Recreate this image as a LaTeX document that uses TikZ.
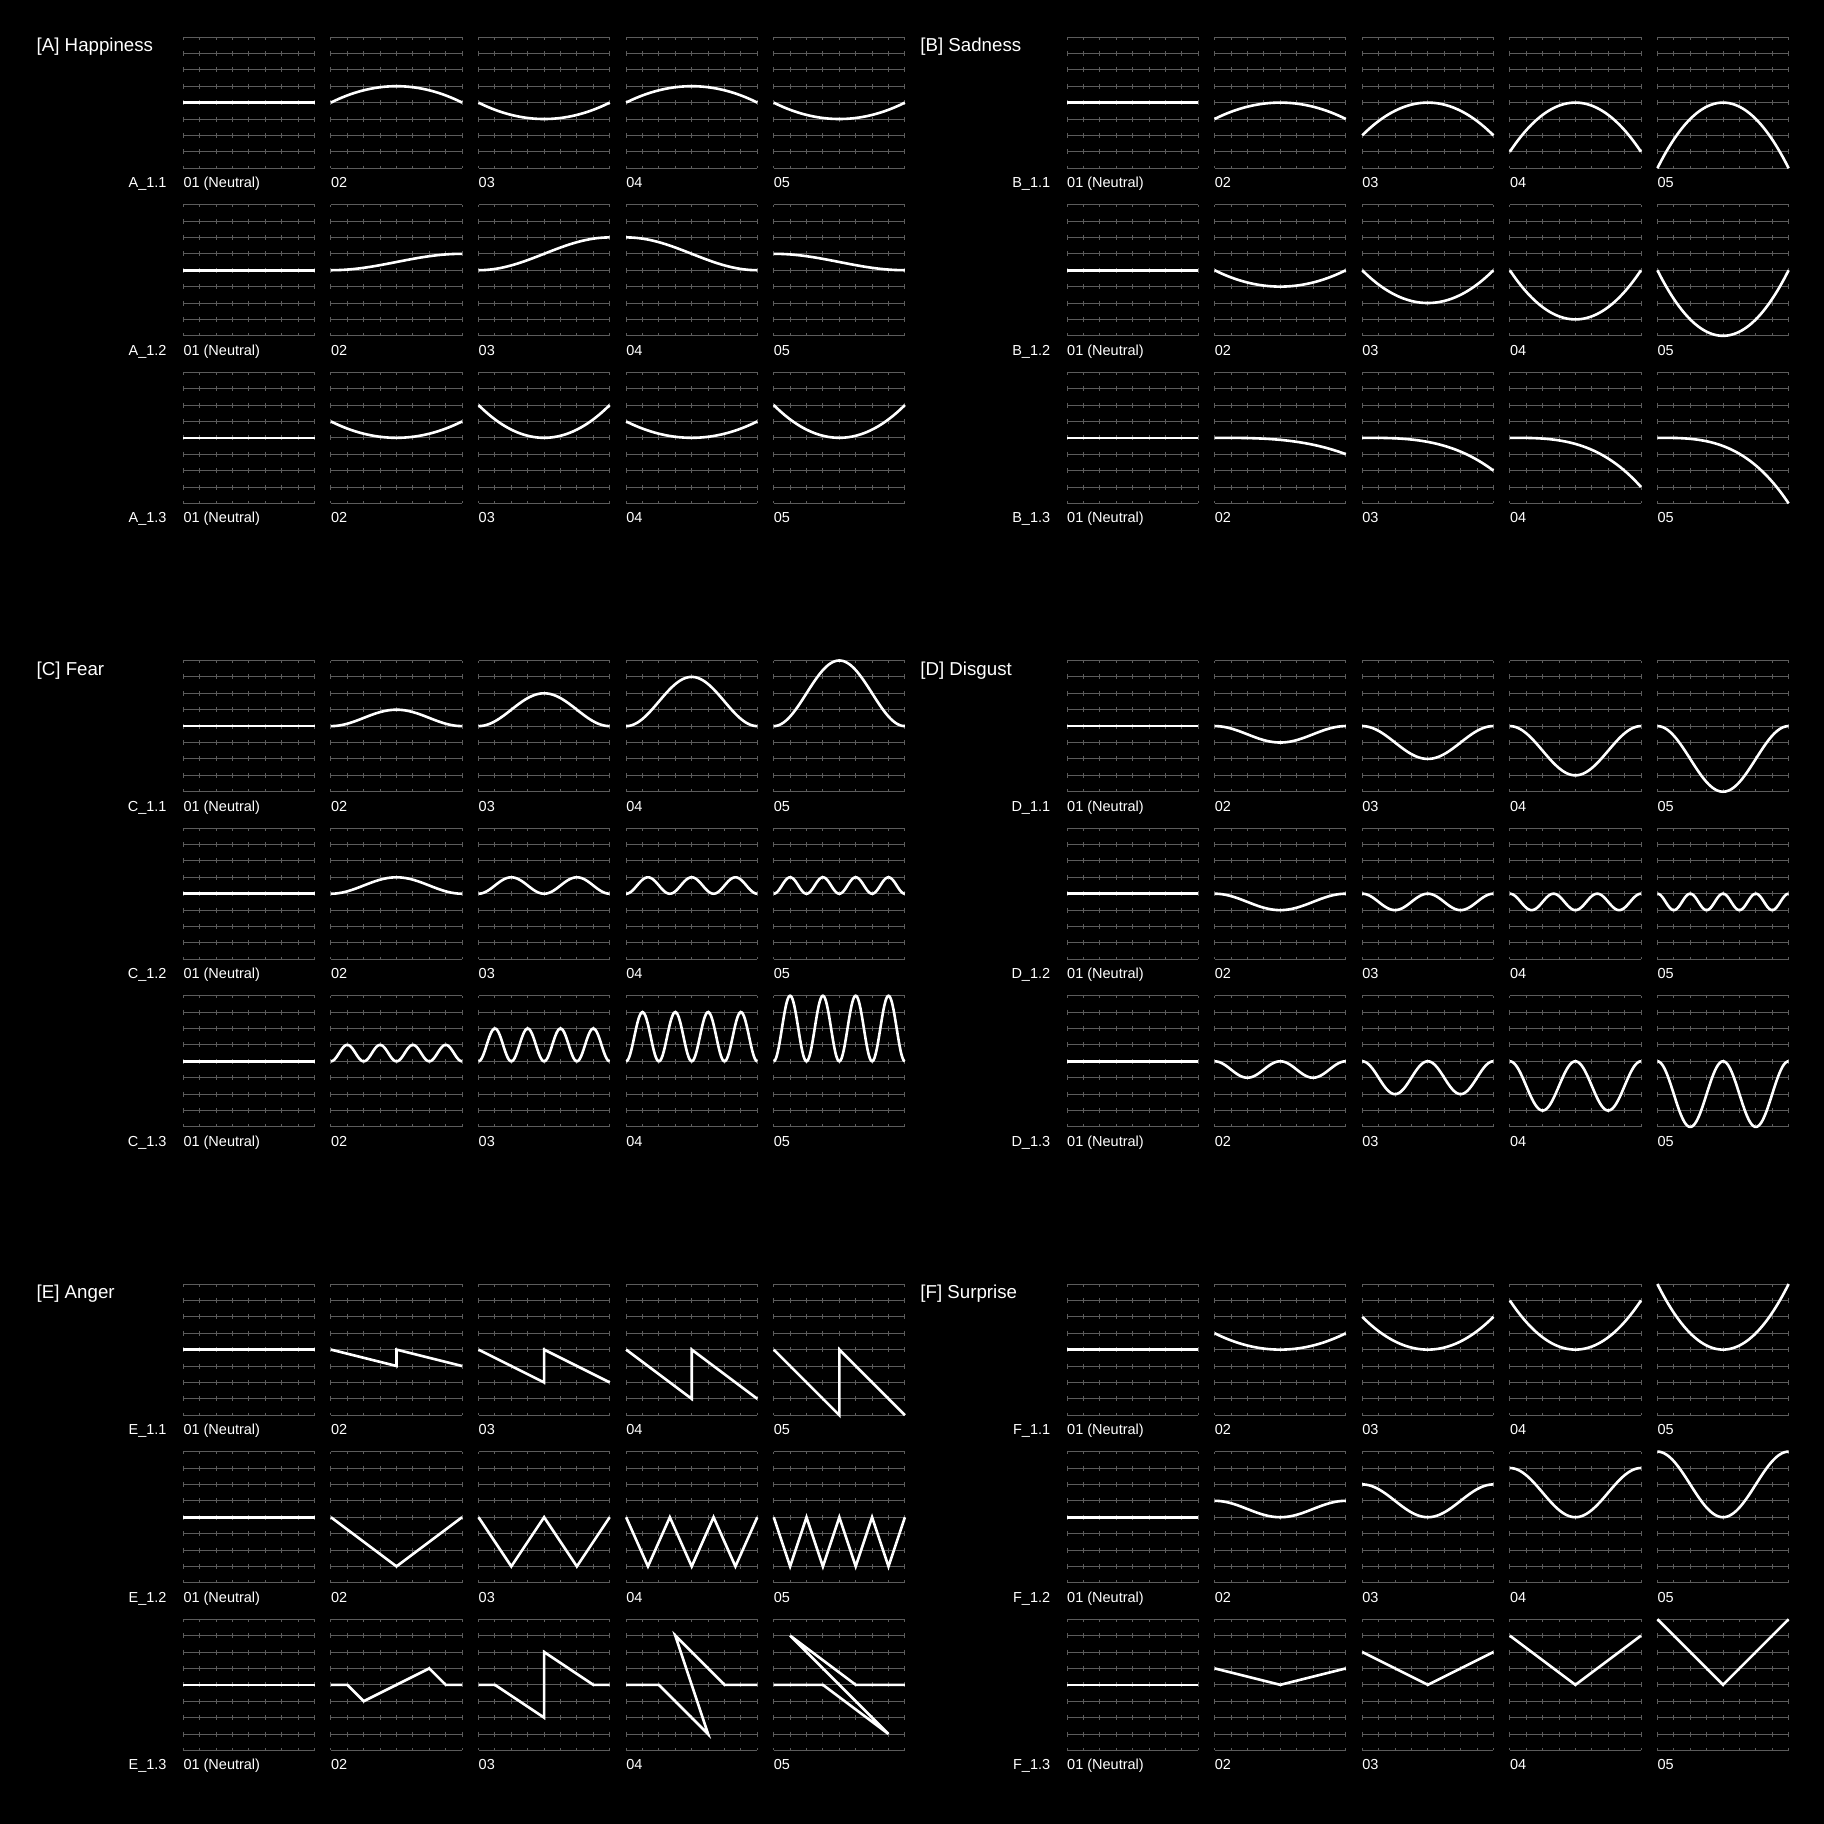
\documentclass[tikz,border=0pt]{standalone}
\usepackage{fontspec}
\setmainfont{Liberation Sans}
\definecolor{gridgray}{gray}{0.36}
\tikzset{
  gridln/.style={draw=gridgray, line width=0.9pt},
  tickln/.style={draw=gridgray, line width=0.9pt, dash pattern=on 5pt off 11.4pt, dash phase=2.5pt},
  wave/.style={draw=white, line width=2.6pt},
  lbl/.style={text=white, font=\fontsize{14.5}{17}\selectfont, inner sep=0pt},
  ttl/.style={text=white, font=\fontsize{18.7}{22}\selectfont, inner sep=0pt, anchor=base west},
}
% curve helpers (cell units: x 0..8, y -4..4, centre line y=0)
\newcommand\cvFlat{(0,0)--(8,0)}
\newcommand\cvPar[2]{plot[domain=0:8,samples=61,smooth] (\x,{(#1)+(#2)*((\x-4)/4)*((\x-4)/4)})}
\newcommand\cvSig[2]{plot[domain=0:8,samples=61,smooth] (\x,{(#1)+((#2)-(#1))*(1-cos(22.5*\x))/2})}
\newcommand\cvBump[2]{plot[domain=0:8,samples=161,smooth] (\x,{(#1)*(1-cos(45*#2*\x))/2})}
\newcommand\cvCos[1]{plot[domain=0:8,samples=61,smooth] (\x,{(#1)*(1+cos(45*\x))/2})}
\newcommand\cvFall[1]{plot[domain=0:8,samples=61,smooth] (\x,{-(#1)*(\x/8)*(\x/8)*(\x/8)})}
\newcommand\cvSaw[1]{(0,0)--(4,-#1)--(4,0)--(8,-#1)}
\newcommand\cvV[1]{(0,#1)--(4,0)--(8,#1)}
% one cell: #1 half, #2 group, #3 row, #4 column, #5 curve
\newcommand\drawcell[5]{%
  \pgfmathsetmacro\cellL{183.3+#1*883.7+#4*147.6}%
  \pgfmathsetmacro\cellT{37+#2*623.5+#3*167.6}%
  \begin{scope}[x=16.4pt,y=16.4pt,shift={(\cellL pt,-\cellT pt)},shift={(0,-4)}]
    \draw[gridln] \foreach \i in {-4,...,4}{(0,\i)--(8,\i)};
    \draw[tickln] \foreach \j in {0,...,8}{(\j,4)--(\j,-4)};
    \draw[wave] #5;
    \node[lbl,anchor=base west] (cap#1#2#3#4) at (0,-5.19)
      {\ifnum#4=0 01 (Neutral)\else 0\the\numexpr#4+1\relax\fi};
  \end{scope}}
% row label: #1 half, #2 group, #3 row, #4 text
\newcommand\rowlbl[4]{%
  \pgfmathsetmacro\cellL{183.3+#1*883.7}%
  \pgfmathsetmacro\cellT{37+#2*623.5+#3*167.6}%
  \node[lbl,anchor=base east] (row#1#2#3) at (\cellL pt-16.6pt,-\cellT pt-150.7pt) {#4};}
% title: #1 half, #2 group, #3 text
\newcommand\grouptitle[3]{%
  \pgfmathsetmacro\cellL{36.5+#1*883.7}%
  \pgfmathsetmacro\cellT{37+#2*623.5+14.8}%
  \node[ttl] (ttl#1#2) at (\cellL pt,-\cellT pt) {#3};}
\begin{document}
\begin{tikzpicture}
\fill[black] (0,0) rectangle (1824pt,-1824pt);
\useasboundingbox (0,0) rectangle (1824pt,-1824pt);

% ---------- titles ----------
\grouptitle{0}{0}{[A] Happiness}
\grouptitle{1}{0}{[B] Sadness}
\grouptitle{0}{1}{[C] Fear}
\grouptitle{1}{1}{[D] Disgust}
\grouptitle{0}{2}{[E] Anger}
\grouptitle{1}{2}{[F] Surprise}

% ---------- row labels ----------
\rowlbl{0}{0}{0}{A\_1.1}\rowlbl{0}{0}{1}{A\_1.2}\rowlbl{0}{0}{2}{A\_1.3}
\rowlbl{1}{0}{0}{B\_1.1}\rowlbl{1}{0}{1}{B\_1.2}\rowlbl{1}{0}{2}{B\_1.3}
\rowlbl{0}{1}{0}{C\_1.1}\rowlbl{0}{1}{1}{C\_1.2}\rowlbl{0}{1}{2}{C\_1.3}
\rowlbl{1}{1}{0}{D\_1.1}\rowlbl{1}{1}{1}{D\_1.2}\rowlbl{1}{1}{2}{D\_1.3}
\rowlbl{0}{2}{0}{E\_1.1}\rowlbl{0}{2}{1}{E\_1.2}\rowlbl{0}{2}{2}{E\_1.3}
\rowlbl{1}{2}{0}{F\_1.1}\rowlbl{1}{2}{1}{F\_1.2}\rowlbl{1}{2}{2}{F\_1.3}

% ---------- A Happiness ----------
\drawcell{0}{0}{0}{0}{\cvFlat}
\drawcell{0}{0}{0}{1}{\cvPar{1}{-1}}
\drawcell{0}{0}{0}{2}{\cvPar{-1}{1}}
\drawcell{0}{0}{0}{3}{\cvPar{1}{-1}}
\drawcell{0}{0}{0}{4}{\cvPar{-1}{1}}
\drawcell{0}{0}{1}{0}{\cvFlat}
\drawcell{0}{0}{1}{1}{\cvSig{0}{1}}
\drawcell{0}{0}{1}{2}{\cvSig{0}{2}}
\drawcell{0}{0}{1}{3}{\cvSig{2}{0}}
\drawcell{0}{0}{1}{4}{\cvSig{1}{0}}
\drawcell{0}{0}{2}{0}{\cvFlat}
\drawcell{0}{0}{2}{1}{\cvPar{0}{1}}
\drawcell{0}{0}{2}{2}{\cvPar{0}{2}}
\drawcell{0}{0}{2}{3}{\cvPar{0}{1}}
\drawcell{0}{0}{2}{4}{\cvPar{0}{2}}

% ---------- B Sadness ----------
\drawcell{1}{0}{0}{0}{\cvFlat}
\drawcell{1}{0}{0}{1}{\cvPar{0}{-1}}
\drawcell{1}{0}{0}{2}{\cvPar{0}{-2}}
\drawcell{1}{0}{0}{3}{\cvPar{0}{-3}}
\drawcell{1}{0}{0}{4}{\cvPar{0}{-4}}
\drawcell{1}{0}{1}{0}{\cvFlat}
\drawcell{1}{0}{1}{1}{\cvPar{-1}{1}}
\drawcell{1}{0}{1}{2}{\cvPar{-2}{2}}
\drawcell{1}{0}{1}{3}{\cvPar{-3}{3}}
\drawcell{1}{0}{1}{4}{\cvPar{-4}{4}}
\drawcell{1}{0}{2}{0}{\cvFlat}
\drawcell{1}{0}{2}{1}{\cvFall{1}}
\drawcell{1}{0}{2}{2}{\cvFall{2}}
\drawcell{1}{0}{2}{3}{\cvFall{3}}
\drawcell{1}{0}{2}{4}{\cvFall{4}}

% ---------- C Fear ----------
\drawcell{0}{1}{0}{0}{\cvFlat}
\drawcell{0}{1}{0}{1}{\cvBump{1}{1}}
\drawcell{0}{1}{0}{2}{\cvBump{2}{1}}
\drawcell{0}{1}{0}{3}{\cvBump{3}{1}}
\drawcell{0}{1}{0}{4}{\cvBump{4}{1}}
\drawcell{0}{1}{1}{0}{\cvFlat}
\drawcell{0}{1}{1}{1}{\cvBump{1}{1}}
\drawcell{0}{1}{1}{2}{\cvBump{1}{2}}
\drawcell{0}{1}{1}{3}{\cvBump{1}{3}}
\drawcell{0}{1}{1}{4}{\cvBump{1}{4}}
\drawcell{0}{1}{2}{0}{\cvFlat}
\drawcell{0}{1}{2}{1}{\cvBump{1}{4}}
\drawcell{0}{1}{2}{2}{\cvBump{2}{4}}
\drawcell{0}{1}{2}{3}{\cvBump{3}{4}}
\drawcell{0}{1}{2}{4}{\cvBump{4}{4}}

% ---------- D Disgust ----------
\drawcell{1}{1}{0}{0}{\cvFlat}
\drawcell{1}{1}{0}{1}{\cvBump{-1}{1}}
\drawcell{1}{1}{0}{2}{\cvBump{-2}{1}}
\drawcell{1}{1}{0}{3}{\cvBump{-3}{1}}
\drawcell{1}{1}{0}{4}{\cvBump{-4}{1}}
\drawcell{1}{1}{1}{0}{\cvFlat}
\drawcell{1}{1}{1}{1}{\cvBump{-1}{1}}
\drawcell{1}{1}{1}{2}{\cvBump{-1}{2}}
\drawcell{1}{1}{1}{3}{\cvBump{-1}{3}}
\drawcell{1}{1}{1}{4}{\cvBump{-1}{4}}
\drawcell{1}{1}{2}{0}{\cvFlat}
\drawcell{1}{1}{2}{1}{\cvBump{-1}{2}}
\drawcell{1}{1}{2}{2}{\cvBump{-2}{2}}
\drawcell{1}{1}{2}{3}{\cvBump{-3}{2}}
\drawcell{1}{1}{2}{4}{\cvBump{-4}{2}}

% ---------- E Anger ----------
\drawcell{0}{2}{0}{0}{\cvFlat}
\drawcell{0}{2}{0}{1}{\cvSaw{1}}
\drawcell{0}{2}{0}{2}{\cvSaw{2}}
\drawcell{0}{2}{0}{3}{\cvSaw{3}}
\drawcell{0}{2}{0}{4}{\cvSaw{4}}
\drawcell{0}{2}{1}{0}{\cvFlat}
\drawcell{0}{2}{1}{1}{(0,0)--(4,-3)--(8,0)}
\drawcell{0}{2}{1}{2}{(0,0)--(2,-3)--(4,0)--(6,-3)--(8,0)}
\drawcell{0}{2}{1}{3}{(0,0)--(4/3,-3)--(8/3,0)--(4,-3)--(16/3,0)--(20/3,-3)--(8,0)}
\drawcell{0}{2}{1}{4}{(0,0)--(1,-3)--(2,0)--(3,-3)--(4,0)--(5,-3)--(6,0)--(7,-3)--(8,0)}
\drawcell{0}{2}{2}{0}{\cvFlat}
\drawcell{0}{2}{2}{1}{(0,0)--(1,0)--(2,-1)--(6,1)--(7,0)--(8,0)}
\drawcell{0}{2}{2}{2}{(0,0)--(1,0)--(4,-2)--(4,2)--(7,0)--(8,0)}
\drawcell{0}{2}{2}{3}{(0,0)--(2,0)--(5,-3)--(3,3)--(6,0)--(8,0)}
\drawcell{0}{2}{2}{4}{(0,0)--(3,0)--(7,-3)--(1,3)--(5,0)--(8,0)}

% ---------- F Surprise ----------
\drawcell{1}{2}{0}{0}{\cvFlat}
\drawcell{1}{2}{0}{1}{\cvPar{0}{1}}
\drawcell{1}{2}{0}{2}{\cvPar{0}{2}}
\drawcell{1}{2}{0}{3}{\cvPar{0}{3}}
\drawcell{1}{2}{0}{4}{\cvPar{0}{4}}
\drawcell{1}{2}{1}{0}{\cvFlat}
\drawcell{1}{2}{1}{1}{\cvCos{1}}
\drawcell{1}{2}{1}{2}{\cvCos{2}}
\drawcell{1}{2}{1}{3}{\cvCos{3}}
\drawcell{1}{2}{1}{4}{\cvCos{4}}
\drawcell{1}{2}{2}{0}{\cvFlat}
\drawcell{1}{2}{2}{1}{\cvV{1}}
\drawcell{1}{2}{2}{2}{\cvV{2}}
\drawcell{1}{2}{2}{3}{\cvV{3}}
\drawcell{1}{2}{2}{4}{\cvV{4}}
\end{tikzpicture}
\end{document}
